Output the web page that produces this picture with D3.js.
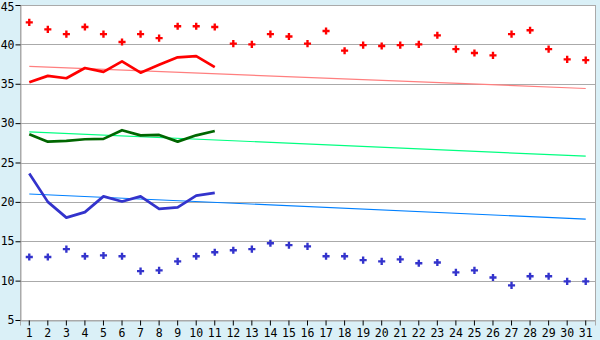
<!doctype html>
<html>
<head>
	<meta charset="utf-8">
	<title>Chart</title>
	<script src="https://cdnjs.cloudflare.com/ajax/libs/d3/7.8.5/d3.min.js"></script>
	<style>
		body { margin: 0; background: #daf0f7; }
		text { font-family: "DejaVu Sans Mono", monospace; font-size: 11.5px; fill: #000; }
	</style>
</head>
<body>
	<script>
		var days = d3.range(1, 32).map(String);
		var yTicks = [5, 10, 15, 20, 25, 30, 35, 40, 45];

		// red series
		var redPoints = [42.8, 41.9, 41.3, 42.2, 41.3, 40.3, 41.3, 40.8, 42.3, 42.3,
			42.2, 40.1, 40.0, 41.3, 41.0, 40.1, 41.7, 39.2, 39.9, 39.8,
			39.9, 40.0, 41.15, 39.4, 38.9, 38.6, 41.3, 41.8, 39.4, 38.1, 38.0];
		var redLine = [35.2, 36.0, 35.7, 37.0, 36.5, 37.85, 36.4, 37.4, 38.35, 38.5, 37.1];
		// green series
		var greenLine = [28.6, 27.65, 27.75, 27.95, 28.0, 29.1, 28.45, 28.5, 27.65, 28.45, 29.0];
		// blue series
		var blueLine = [23.6, 20.0, 18.0, 18.7, 20.7, 20.05, 20.7, 19.1, 19.3, 20.8, 21.15];
		var bluePoints = [13.0, 13.0, 14.0, 13.1, 13.2, 13.1, 11.2, 11.3, 12.45, 13.1,
			13.6, 13.85, 14.0, 14.75, 14.5, 14.35, 13.1, 13.1, 12.6, 12.45,
			12.7, 12.2, 12.3, 11.05, 11.3, 10.4, 9.4, 10.55, 10.55, 9.9, 9.9];
		// trend lines: value at day 1 and at day 31
		var redTrend = [37.2, 34.4];
		var greenTrend = [28.9, 25.8];
		var blueTrend = [21.0, 17.8];

		var W = 600, H = 340;
		var pL = 20, pR = 595, pT = 5, pB = 320;

		var svg = d3.select('body').append('svg')
			.attr('width', W)
			.attr('height', H);

		var x = d3.scaleBand().domain(days).range([pL, pR]);
		var y = d3.scaleLinear().domain([5, 45]).range([pB, pT]);
		var cx = function (i) { return x(days[i]) + x.bandwidth() / 2; };

		svg.append('rect')
			.attr('x', pL + 0.5).attr('y', pT + 0.5)
			.attr('width', pR - pL).attr('height', pB - pT)
			.attr('fill', '#fff')
			.attr('stroke', '#aaa');

		// gridlines
		svg.append('g').selectAll('line')
			.data(yTicks.slice(1, -1))
			.enter().append('line')
			.attr('x1', pL).attr('x2', pR)
			.attr('y1', function (d) { return Math.round(y(d)) + 0.5; })
			.attr('y2', function (d) { return Math.round(y(d)) + 0.5; })
			.attr('stroke', '#aaa');

		// axes
		var yAxis = svg.append('g')
			.attr('transform', 'translate(' + (pL + 0.5) + ',0)')
			.call(d3.axisLeft(y).tickValues(yTicks).tickSize(5).tickPadding(1));
		var xAxis = svg.append('g')
			.attr('transform', 'translate(0,' + (pB + 0.5) + ')')
			.call(d3.axisBottom(x).tickSize(5).tickPadding(3));
		[yAxis, xAxis].forEach(function (a) {
			a.select('.domain').attr('stroke', '#aaa');
			a.selectAll('.tick line').attr('stroke', '#000');
			a.selectAll('text').attr('font-family', null).attr('font-size', null);
		});
		// keep the top label inside the window
		yAxis.selectAll('.tick text').filter(function (d) { return d === 45; }).attr('y', 1.5);

		function trend(t, color) {
			svg.append('line')
				.attr('x1', cx(0)).attr('y1', y(t[0]))
				.attr('x2', cx(30)).attr('y2', y(t[1]))
				.attr('stroke', color)
				.attr('stroke-width', 1.2);
		}
		trend(redTrend, '#ff7f7f');
		trend(greenTrend, '#00ff80');
		trend(blueTrend, '#0080ff');

		var line = d3.line()
			.x(function (d, i) { return cx(i); })
			.y(function (d) { return y(d); });

		function drawLine(vals, color) {
			svg.append('path')
				.datum(vals)
				.attr('d', line)
				.attr('fill', 'none')
				.attr('stroke', color)
				.attr('stroke-width', 2.7)
				.attr('stroke-linejoin', 'round');
		}
		drawLine(redLine, '#ff0000');
		drawLine(greenLine, '#006600');
		drawLine(blueLine, '#3333cc');

		var marker = d3.symbol().type(d3.symbolCross).size(28);
		function drawPoints(vals, color) {
			svg.append('g').selectAll('path')
				.data(vals)
				.enter().append('path')
				.attr('d', marker)
				.attr('transform', function (d, i) { return 'translate(' + cx(i) + ',' + y(d) + ')'; })
				.attr('fill', color);
		}
		drawPoints(redPoints, '#ff0000');
		drawPoints(bluePoints, '#3333cc');
	</script>
</body>
</html>
